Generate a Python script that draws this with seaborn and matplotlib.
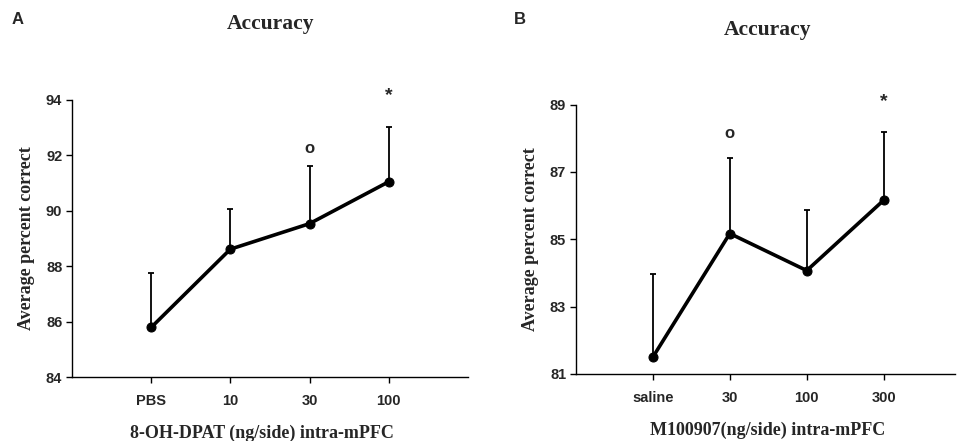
import numpy as np
import pandas as pd
import matplotlib
matplotlib.use("Agg")
import matplotlib.pyplot as plt
import seaborn as sns

sns.set_style("ticks")
plt.rcParams['font.family'] = ['Liberation Sans', 'DejaVu Sans']

# Panel A: 8-OH-DPAT
doses_a = ["PBS", "10", "30", "100"]
mean_a = [85.79, 88.61, 89.53, 91.04]
err_a = [1.95, 1.44, 2.07, 1.96]
marks_a = {"30": ("o", 92.25), "100": ("*", 94.15)}

# Panel B: M100907
doses_b = ["saline", "30", "100", "300"]
mean_b = [81.50, 85.17, 84.07, 86.16]
err_b = [2.47, 2.23, 1.80, 2.03]
marks_b = {"30": ("o", 88.15), "300": ("*", 89.1)}

serif = ['Liberation Serif', 'DejaVu Serif']

fig = plt.figure(figsize=(9.63, 4.41), dpi=100)
ax_a = fig.add_axes([0.0748, 0.145, 0.411, 0.629])
ax_b = fig.add_axes([0.598, 0.152, 0.394, 0.611])


def draw_panel(ax, doses, means, errs, marks, ylim, yticks, xlim):
    df = pd.DataFrame({"dose": doses, "mean": means})
    ax.errorbar(doses, means, yerr=[np.zeros(len(errs)), errs], fmt="none",
                ecolor="black", elinewidth=1.3, capsize=2.5, capthick=1.3, zorder=2)
    sns.lineplot(data=df, x="dose", y="mean", ax=ax, color="black", linewidth=2.6,
                 marker="o", markersize=6.5, markeredgecolor="black", sort=False, zorder=3)
    for d, (sym, yv) in marks.items():
        i = doses.index(d)
        if sym == "*":
            ax.text(i, yv, "*", ha="center", va="center", fontsize=14, fontweight="bold",
                    clip_on=False)
        else:
            ax.text(i, yv, "o", ha="center", va="center", fontsize=12, fontweight="bold",
                    clip_on=False)
    ax.set_ylim(*ylim)
    ax.set_yticks(yticks)
    ax.set_xlim(*xlim)
    ax.set_xlabel("")
    ax.set_ylabel("Average percent correct", family=serif, fontsize=13, fontweight="bold",
                  labelpad=8)
    for lab in ax.get_xticklabels() + ax.get_yticklabels():
        lab.set_fontweight("bold")
        lab.set_fontsize(10.5)
    ax.tick_params(axis="x", length=4, width=1, pad=8, color="black")
    ax.tick_params(axis="y", length=4, width=1, pad=3, color="black")
    sns.despine(ax=ax)
    for s in ["left", "bottom"]:
        ax.spines[s].set_color("black")
        ax.spines[s].set_linewidth(1)


draw_panel(ax_a, doses_a, mean_a, err_a, marks_a, (84, 94), [84, 86, 88, 90, 92, 94], (-1, 4))
draw_panel(ax_b, doses_b, mean_b, err_b, marks_b, (81, 89), [81, 83, 85, 87, 89], (-1, 3.93))

fig.text(0.281, 0.945, "Accuracy", family=serif, fontsize=15.5, fontweight="bold",
         ha="center", va="center")
fig.text(0.797, 0.932, "Accuracy", family=serif, fontsize=15.5, fontweight="bold",
         ha="center", va="center")
fig.text(0.272, 0.018, "8-OH-DPAT (ng/side) intra-mPFC", family=serif, fontsize=13,
         fontweight="bold", ha="center", va="center")
fig.text(0.797, 0.025, "M100907(ng/side) intra-mPFC", family=serif, fontsize=13,
         fontweight="bold", ha="center", va="center")
fig.text(0.012, 0.955, "A", fontsize=12, fontweight="bold", ha="left", va="center")
fig.text(0.534, 0.955, "B", fontsize=12, fontweight="bold", ha="left", va="center")

fig.savefig("out.png", dpi=100)
